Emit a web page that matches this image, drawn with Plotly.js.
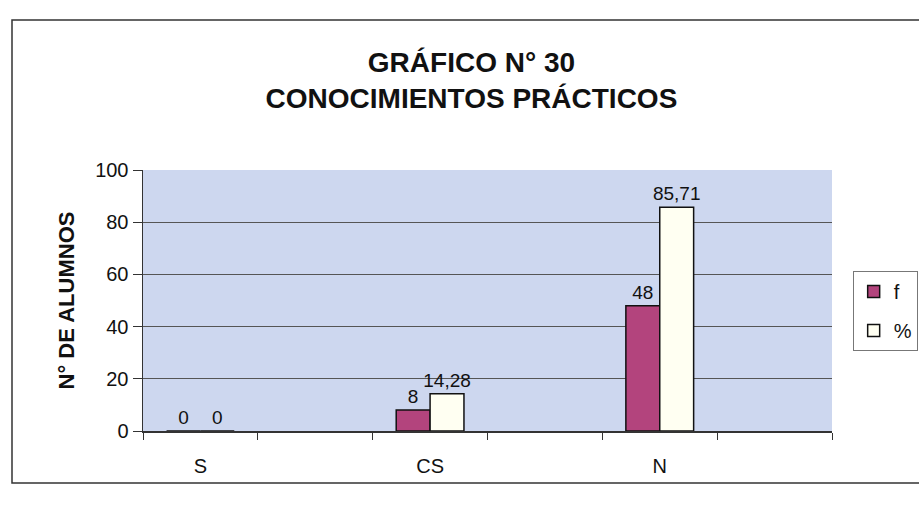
<!DOCTYPE html>
<html>
<head>
<meta charset="utf-8">
<script src="https://cdn.plot.ly/plotly-3.0.1.min.js"></script>
<style>html,body{margin:0;padding:0;background:#fff;}#chart{width:919px;height:512px;}</style>
</head>
<body>
<div id="chart"></div>
<script>
// Data
const categories = ["S", "CS", "N"];
const slotOrder = ["S", " ", "CS", "  ", "N", "   "];
const seriesNames = ["f", "%"];
const fValues = [0, 8, 48];
const pctValues = [0, 14.28, 85.71];
const yTicks = [0, 20, 40, 60, 80, 100];

const fmt = v => String(v).replace('.', ',');
const baseFont = "Liberation Sans, Arial, sans-serif";
const labelFont = {family: baseFont, size: 19, color: "#111"};

const traces = [
  {
    type: "bar", name: seriesNames[0], x: categories, y: fValues,
    legendgroup: "g1",
    text: fValues.map(fmt), textposition: "outside", cliponaxis: false,
    constraintext: "none", textfont: labelFont,
    marker: {color: "#B3447D", line: {color: "#111", width: 1.5}}
  },
  {
    type: "bar", name: seriesNames[1], x: categories, y: pctValues,
    legendgroup: "g2",
    text: pctValues.map(fmt), textposition: "outside", cliponaxis: false,
    constraintext: "none", textfont: labelFont,
    marker: {color: "#FFFFF2", line: {color: "#111", width: 1.5}}
  }
];

const layout = {
  width: 919, height: 512,
  paper_bgcolor: "#ffffff",
  plot_bgcolor: "#CDD7EF",
  margin: {l: 143, r: 87, t: 170, b: 81, autoexpand: false},
  barmode: "group", bargap: 0.41, bargroupgap: 0,
  font: {family: baseFont, color: "#111"},
  title: {
    text: "<b>GRÁFICO N° 30<br>CONOCIMIENTOS PRÁCTICOS</b>",
    font: {family: baseFont, size: 28, color: "#111"},
    x: 0.513, xref: "container", xanchor: "center",
    y: 0.86, yanchor: "middle"
  },
  xaxis: {
    type: "category", categoryorder: "array", categoryarray: slotOrder,
    range: [-0.5, 5.5],
    tickson: "boundaries", ticks: "outside", ticklen: 7, tickcolor: "#333",
    ticklabelstandoff: 16,
    showline: true, linecolor: "#333", linewidth: 1.5,
    showgrid: false, zeroline: false,
    tickfont: {size: 20, color: "#111"}
  },
  yaxis: {
    range: [0, 100], tickvals: yTicks,
    ticks: "outside", ticklen: 9, tickcolor: "#333",
    showline: true, linecolor: "#333", linewidth: 1.5,
    showgrid: true, gridcolor: "#555", gridwidth: 1,
    zeroline: false,
    tickfont: {size: 20, color: "#111"},
    title: {text: "<b>N° DE ALUMNOS</b>", font: {size: 22, color: "#111"}, standoff: 14}
  },
  legend: {
    x: 1.03, xanchor: "left", y: 0.46, yanchor: "middle",
    bordercolor: "#777", borderwidth: 1, bgcolor: "#fff",
    font: {size: 20, color: "#111"}, itemwidth: 30, tracegroupgap: 10
  },
  shapes: [
    {type: "rect", xref: "paper", yref: "paper",
     x0: -131/689, x1: 1.2, y0: -52/261, y1: 1 + 150/261,
     line: {color: "#333", width: 1.5}, fillcolor: "rgba(0,0,0,0)", layer: "below"}
  ]
};

Plotly.newPlot("chart", traces, layout, {staticPlot: true, displayModeBar: false});
</script>
</body>
</html>
